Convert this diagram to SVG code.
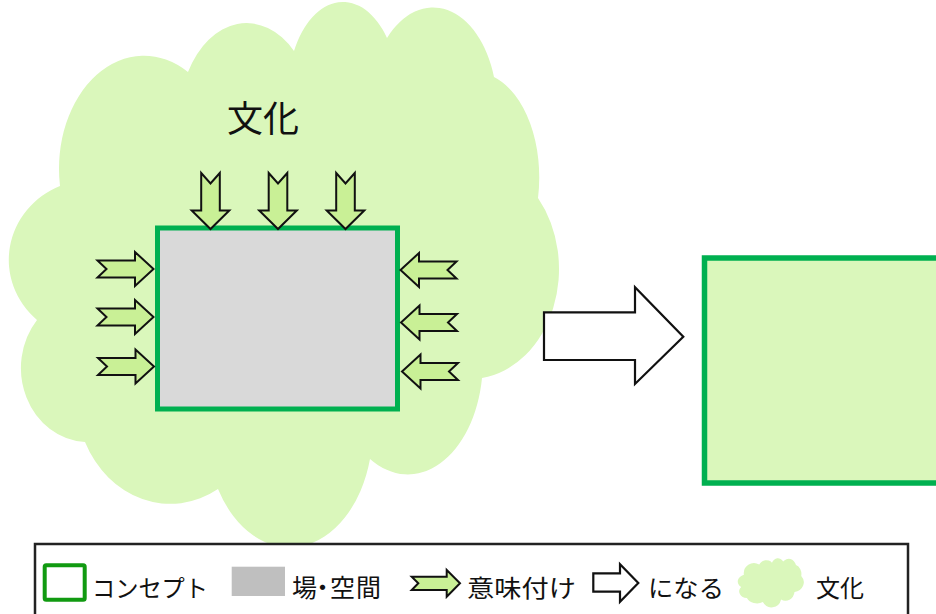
<svg xmlns="http://www.w3.org/2000/svg" width="936" height="614" viewBox="0 0 936 614">
<defs>
<style>
.cloud{fill:#daf7bb;stroke:none}
.sig{fill:#c9f096;stroke:#111;stroke-width:2;stroke-linejoin:miter}
.big{fill:#ffffff;stroke:#111;stroke-width:2.2;stroke-linejoin:miter}
.lbl{font-family:"Noto Sans CJK JP","Noto Sans",sans-serif;fill:#111}
</style>
<path id="cloudShape" d="M60,186 A85,113 0 0 1 188,72 A67,95 0 0 1 294,51 A55,90 0 0 1 387,38 A64,100 0 0 1 494,77 A64,105 0 0 1 538,198 A89,110 0 0 1 482,378 A75,113 0 0 1 370,459 A83,118 0 0 1 218,489 A94,107 0 0 1 85,442 A67,74 0 0 1 37,320 A83,80 0 0 1 60,186 Z"/>
<path id="arrowDown" d="M-9.3,-56 L0,-45.5 L9.3,-56 L9.3,-18.5 L18.8,-18.5 L0,0 L-18.8,-18.5 L-9.3,-18.5 Z"/>
<path id="arrowRight" d="M-56,-8.5 L-18.5,-8.5 L-18.5,-17 L0,0 L-18.5,17 L-18.5,8.5 L-56,8.5 L-47,0 Z"/>
</defs>

<g id="culture-cloud">
<use href="#cloudShape" class="cloud"/>
</g>

<g id="culture-label">
<text class="lbl" x="227" y="132" font-size="36">文化</text>
</g>

<g id="place-space">
<rect x="157.5" y="228" width="240" height="181" fill="#d9d9d9" stroke="#00b050" stroke-width="5"/>
</g>

<g id="concept-result">
<rect x="704.5" y="258" width="260" height="225" fill="#daf7bb" stroke="#00b050" stroke-width="5.5"/>
</g>

<g id="connectors">
<g id="meaning-arrows">
<use href="#arrowDown" class="sig" transform="translate(210.5,229)"/>
<use href="#arrowDown" class="sig" transform="translate(278,229)"/>
<use href="#arrowDown" class="sig" transform="translate(345.5,229)"/>
<use href="#arrowRight" class="sig" transform="translate(153.5,269)"/>
<use href="#arrowRight" class="sig" transform="translate(153.5,317)"/>
<use href="#arrowRight" class="sig" transform="translate(154,366.5)"/>
<use href="#arrowRight" class="sig" transform="translate(400.5,270) rotate(180)"/>
<use href="#arrowRight" class="sig" transform="translate(401,322.5) rotate(180)"/>
<use href="#arrowRight" class="sig" transform="translate(402,371.5) rotate(180)"/>
</g>
<g id="becomes-arrow">
<path class="big" d="M544,312.3 L635,312.3 L635,287.3 L683.3,336.7 L635,384 L635,360 L544,360 Z"/>
</g>
</g>

<g id="legend">
<rect x="35" y="544" width="873" height="80" fill="#ffffff" stroke="#222" stroke-width="2.5"/>
<rect x="44.7" y="565.3" width="40" height="34.4" fill="#ffffff" stroke="#119a11" stroke-width="4" rx="1.5"/>
<text class="lbl" x="92" y="597" font-size="24" textLength="116" lengthAdjust="spacingAndGlyphs">コンセプト</text>
<rect x="231.7" y="566.7" width="53.3" height="29.3" fill="#bfbfbf"/>
<text class="lbl" x="292 310 330 356" y="597" font-size="25">場・空間</text>
<path class="sig" stroke-width="1.5" d="M411.7,576.7 L446.7,576.7 L446.7,570 L460,583.3 L446.7,596.7 L446.7,590 L411.7,590 L418.3,583.3 Z"/>
<text class="lbl" x="467" y="597" font-size="24" textLength="109" lengthAdjust="spacingAndGlyphs">意味付け</text>
<path class="big" stroke-width="1.5" d="M593.3,573.3 L620,573.3 L620,564.3 L638.3,583 L620,601.7 L620,591.7 L593.3,591.7 Z"/>
<text class="lbl" x="648" y="597" font-size="24" textLength="76" lengthAdjust="spacingAndGlyphs">になる</text>
<use href="#cloudShape" class="cloud" transform="translate(736.7,558.1) scale(0.12,0.09)"/>
<text class="lbl" x="816" y="597" font-size="24" textLength="48" lengthAdjust="spacingAndGlyphs">文化</text>
</g>
</svg>
